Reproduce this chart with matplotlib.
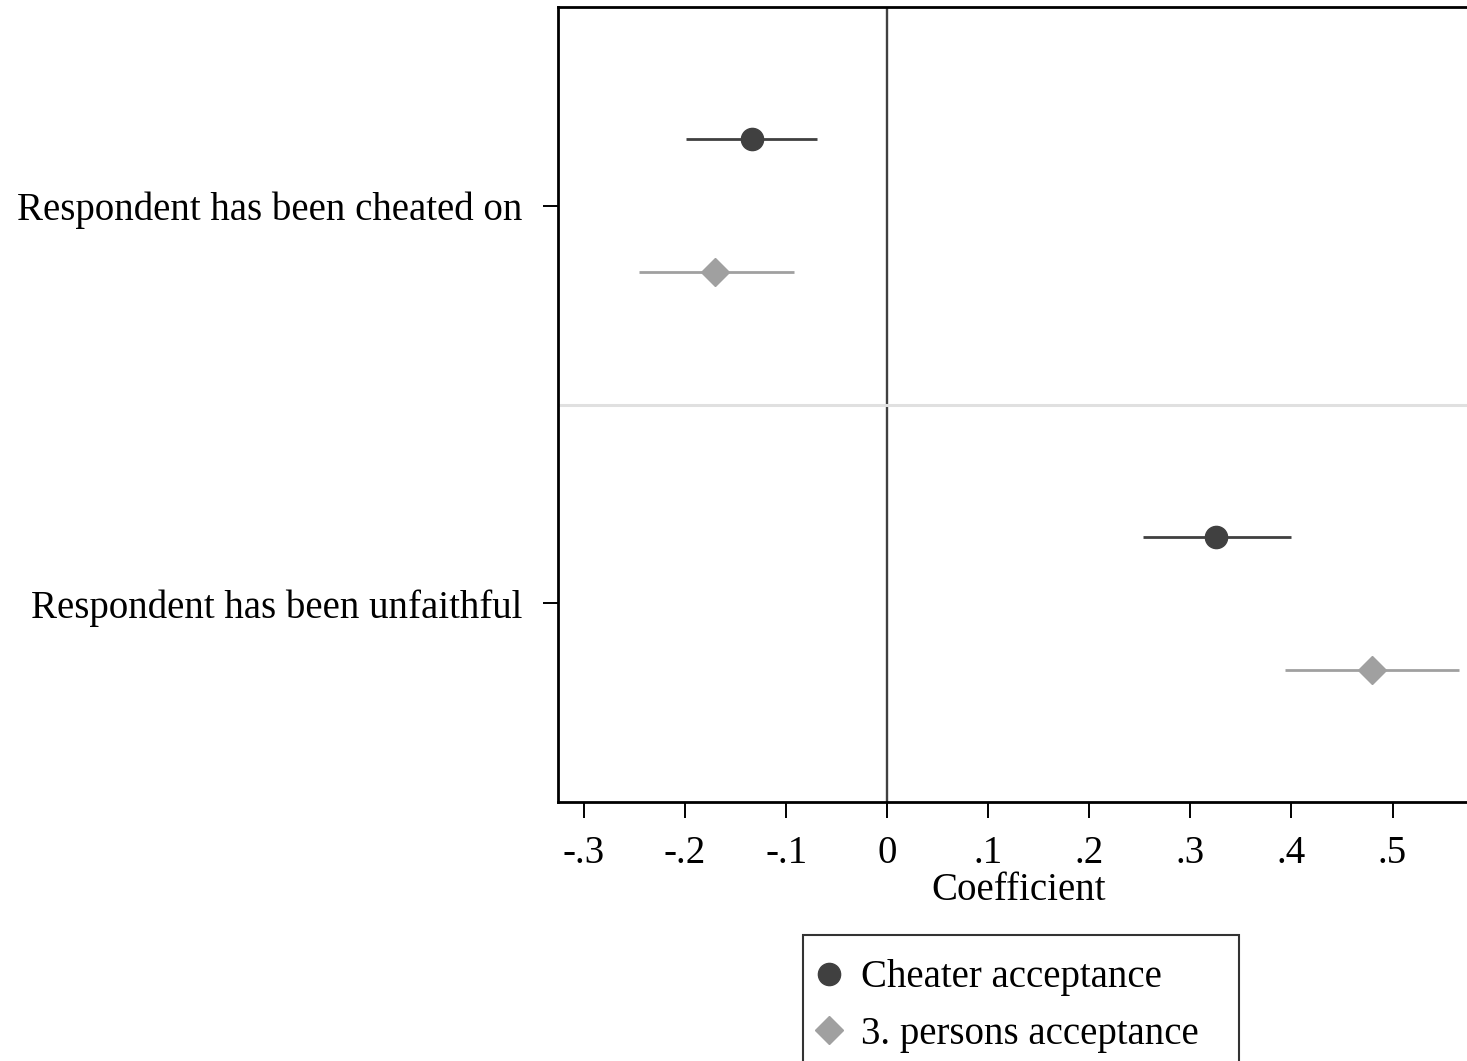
import matplotlib
matplotlib.use("Agg")
import matplotlib.pyplot as plt
import numpy as np

plt.rcParams['font.family'] = ['Liberation Serif', 'DejaVu Serif']

categories = ["Respondent has been cheated on", "Respondent has been unfaithful"]
series_names = ["Cheater acceptance", "3. persons acceptance"]
cheater_coef = [-0.134, 0.325]
cheater_lo = [-0.199, 0.253]
cheater_hi = [-0.069, 0.400]
third_coef = [-0.170, 0.480]
third_lo = [-0.246, 0.394]
third_hi = [-0.092, 0.566]
xticks = [-0.3, -0.2, -0.1, 0, 0.1, 0.2, 0.3, 0.4, 0.5]
xticklabels = ["-.3", "-.2", "-.1", "0", ".1", ".2", ".3", ".4", ".5"]

W, H = 1467, 1061
fig = plt.figure(figsize=(W / 100, H / 100), dpi=100)
left_px, right_px, top_px, bot_px = 558, 1480, 7, 802
ax_w = right_px - left_px
ax_h = bot_px - top_px
ax = fig.add_axes([left_px / W, 1 - bot_px / H, ax_w / W, ax_h / H])

dark = "#404040"
light = "#a0a0a0"
ypos = np.arange(1, len(categories) + 1)
off = 0.167

ax.axvline(0, color=dark, lw=1.7, zorder=1)
ax.axhline(1.5, color="#e0e0e0", lw=2.2, zorder=1)

ax.hlines(ypos - off, cheater_lo, cheater_hi, color=dark, lw=2.0, zorder=2)
ax.plot(cheater_coef, ypos - off, 'o', color=dark, ms=16, mec=dark, ls='none',
        label=series_names[0], zorder=3)
ax.hlines(ypos + off, third_lo, third_hi, color=light, lw=2.0, zorder=2)
ax.plot(third_coef, ypos + off, 'D', color=light, ms=14, mec=light, ls='none',
        label=series_names[1], zorder=3)

x0 = -0.3 - 26 / 1011
x1 = (right_px - 887) / 1011
ax.set_xlim(x0, x1)
ax.set_ylim(2.5, 0.5)

ax.set_xticks(xticks)
ax.set_xticklabels(xticklabels, fontsize=28)
ax.set_yticks(ypos)
ax.set_yticklabels(categories, fontsize=28)
ax.tick_params(axis='x', length=11.5, width=1.4, pad=12.5, color='black')
ax.tick_params(axis='y', length=10.8, width=1.4, pad=15, color='black')
ax.set_xlabel("Coefficient", fontsize=28, labelpad=0)

for s in ax.spines.values():
    s.set_linewidth(2.0)
    s.set_color('black')

leg_left, leg_top, leg_w = 803, 935, 436
bb_h = 0.01
leg = ax.legend(loc='upper left',
                bbox_to_anchor=((leg_left - left_px) / ax_w, (bot_px - leg_top) / ax_h - bb_h,
                                leg_w / ax_w, bb_h),
                mode='expand',
                fontsize=28, frameon=True, fancybox=False, edgecolor='black',
                handletextpad=0.77, labelspacing=0.5, borderpad=0.62, handlelength=0.1,
                borderaxespad=0)
leg.get_frame().set_linewidth(1.5)

fig.savefig("out.png", dpi=100, facecolor='white')
